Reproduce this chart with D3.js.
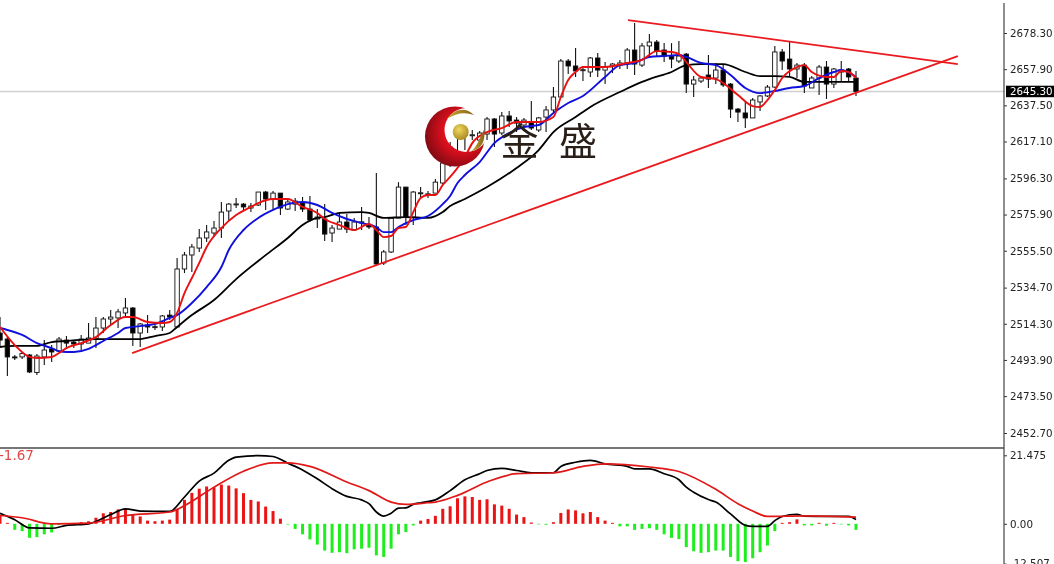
<!DOCTYPE html>
<html><head><meta charset="utf-8">
<script src="https://cdn.jsdelivr.net/npm/d3@7/dist/d3.min.js"></script>
<style>html,body{margin:0;padding:0;background:#fff;overflow:hidden}svg{display:block;filter:blur(0.35px)}text{font-family:"DejaVu Sans",sans-serif}</style>
</head><body><svg id="c" width="1054" height="564"></svg>
<script>
const opens=[2509.1,2505.7,2495.6,2495.6,2496.7,2486.8,2495.6,2500.1,2498.9,2505.1,2504.0,2502.9,2503.4,2505.7,2511.9,2517.0,2517.6,2520.4,2523.2,2509.1,2513.6,2512.5,2512.5,2519.2,2512.5,2545.2,2553.1,2557.0,2562.7,2565.5,2568.3,2577.9,2581.8,2581.8,2579.6,2581.3,2588.6,2584.7,2588.0,2579.0,2581.8,2582.4,2579.0,2573.4,2573.4,2565.5,2567.7,2571.7,2567.2,2571.7,2570.0,2568.9,2548.6,2554.8,2573.9,2591.4,2574.5,2588.0,2587.4,2588.0,2593.7,2605.0,2620.0,2622.5,2620.7,2617.9,2621.3,2629.8,2621.9,2631.5,2629.2,2626.4,2628.1,2623.6,2630.9,2634.9,2642.2,2662.5,2659.7,2657.4,2656.3,2664.2,2657.4,2659.7,2660.2,2661.4,2668.7,2660.2,2671.0,2673.2,2668.7,2665.3,2662.5,2666.4,2649.5,2651.2,2654.6,2652.9,2657.4,2649.5,2635.4,2633.2,2630.4,2639.4,2642.8,2647.8,2667.6,2663.6,2658.0,2660.2,2647.3,2652.9,2659.1,2649.5,2656.3,2658.0,2652.9];
const highs=[2518.1,2506.8,2496.7,2498.4,2497.2,2497.2,2505.1,2502.3,2506.8,2507.4,2505.1,2508.0,2514.7,2518.1,2518.1,2522.1,2522.6,2528.8,2523.8,2514.7,2519.2,2514.2,2519.2,2522.1,2551.4,2554.8,2559.3,2567.7,2570.0,2572.2,2583.0,2582.4,2585.2,2582.4,2582.4,2588.6,2589.2,2589.2,2588.0,2584.7,2585.2,2585.8,2586.4,2579.0,2581.8,2570.0,2576.8,2576.2,2573.9,2580.2,2574.5,2599.3,2555.9,2574.5,2594.2,2591.4,2589.2,2591.4,2589.2,2595.9,2606.1,2616.8,2624.0,2624.0,2623.6,2623.0,2630.9,2630.4,2633.7,2634.3,2630.9,2630.4,2639.9,2630.9,2637.1,2647.8,2663.6,2663.6,2669.8,2659.1,2664.8,2667.0,2661.9,2661.4,2663.1,2669.8,2683.9,2672.6,2677.7,2674.3,2672.6,2672.6,2673.8,2667.0,2654.0,2653.5,2665.9,2661.4,2660.2,2650.1,2636.0,2639.4,2641.6,2643.3,2649.0,2671.0,2669.3,2673.8,2661.4,2661.4,2654.0,2660.2,2662.5,2658.5,2662.5,2658.5,2656.9];
const lows=[2501.2,2484.8,2493.9,2494.4,2486.5,2485.4,2491.0,2492.7,2498.4,2500.6,2500.6,2499.5,2503.4,2500.6,2509.1,2513.6,2511.9,2518.1,2501.8,2501.2,2509.1,2510.8,2510.2,2516.4,2512.5,2542.9,2543.5,2554.8,2560.4,2563.2,2562.7,2572.8,2579.6,2577.9,2577.3,2580.7,2578.5,2578.5,2575.6,2578.5,2577.9,2577.3,2571.7,2568.3,2561.0,2560.4,2567.7,2565.5,2566.6,2567.2,2567.7,2547.4,2547.4,2554.2,2573.9,2570.0,2570.0,2585.2,2585.2,2588.0,2593.1,2602.7,2611.2,2612.3,2617.9,2615.0,2617.9,2614.0,2620.8,2625.3,2622.4,2623.6,2623.6,2622.4,2622.4,2633.7,2642.2,2655.2,2653.5,2651.2,2653.5,2653.5,2649.5,2655.7,2658.0,2658.0,2654.6,2659.1,2664.8,2665.3,2661.9,2658.5,2661.4,2644.4,2642.2,2650.1,2647.3,2649.5,2647.8,2630.4,2628.1,2624.7,2630.4,2634.3,2642.2,2647.3,2657.4,2653.5,2652.9,2644.4,2647.3,2643.3,2641.1,2647.3,2651.2,2650.7,2642.8];
const closes=[2505.1,2495.6,2495.4,2497.5,2487.1,2496.1,2499.5,2498.4,2505.7,2503.4,2502.9,2505.7,2506.3,2511.9,2517.0,2518.1,2521.0,2523.2,2509.1,2514.2,2512.5,2512.7,2518.7,2518.1,2545.2,2553.1,2557.6,2562.7,2566.1,2568.3,2577.3,2581.8,2581.9,2580.2,2580.7,2588.6,2584.7,2588.0,2579.6,2583.0,2583.5,2579.0,2572.8,2574.5,2564.9,2568.3,2571.7,2567.7,2571.7,2571.8,2568.9,2548.0,2554.8,2573.9,2591.4,2574.5,2588.6,2588.2,2587.6,2594.2,2605.0,2614.0,2623.0,2620.5,2620.9,2621.9,2629.8,2621.3,2631.5,2628.7,2627.5,2629.2,2624.7,2630.4,2634.9,2642.2,2662.5,2659.7,2656.9,2657.6,2664.2,2657.4,2659.1,2660.8,2661.4,2668.7,2660.8,2671.0,2673.2,2668.1,2665.3,2663.6,2665.3,2649.5,2651.8,2652.9,2652.3,2657.4,2649.0,2635.4,2633.7,2630.4,2640.5,2642.8,2647.8,2667.6,2662.5,2658.0,2660.2,2648.4,2652.9,2659.1,2649.5,2658.0,2657.4,2653.5,2645.3];

const redBars=[0,2,4,5,7,8,9,11,13,15,17,18,20,22,23,24,25,26,27,28,30,32,34,35,37,39,41,43,44,46,48,50,51,52,53,54,55,56,57,58,59,60,61,63,64,66,68,70,73,75,76,77,78,79,82,85,87,89,91,92,93,95,97,98,100,102,103,104,105,106,108,109,110,112,113,114,115,116];
const redValues=[2512.5,2502.3,2495.6,2495.0,2495.6,2497.8,2500.6,2503.4,2506.8,2513.6,2518.1,2518.1,2515.3,2514.7,2515.3,2520.4,2531.6,2540.1,2548.6,2557.6,2568.3,2575.6,2580.2,2582.4,2584.7,2584.7,2580.2,2576.8,2573.4,2570.0,2567.2,2570.6,2567.2,2563.2,2563.8,2568.3,2568.9,2577.3,2585.2,2586.9,2586.9,2592.6,2597.1,2608.4,2616.2,2622.4,2624.7,2628.1,2628.1,2630.9,2642.2,2651.8,2656.3,2659.1,2659.1,2661.4,2663.1,2668.1,2667.6,2666.4,2661.9,2653.5,2652.3,2650.1,2643.3,2637.1,2636.6,2640.5,2646.1,2652.9,2659.1,2660.2,2656.3,2653.5,2653.5,2656.9,2656.3,2652.9];
const blueBars=[0,1,3,5,7,8,9,10,12,13,14,16,17,19,21,23,24,26,28,30,31,33,35,37,39,41,43,45,47,49,51,52,53,54,56,58,60,61,62,63,65,67,69,71,73,75,77,79,82,84,86,88,90,92,93,95,97,99,101,103,105,107,109,111,113,114,116];
const blueValues=[2511.9,2510.8,2508.0,2503.4,2500.6,2498.9,2498.4,2498.4,2500.1,2502.3,2504.6,2509.1,2511.9,2513.0,2514.2,2517.6,2519.2,2526.0,2535.0,2546.3,2555.9,2567.2,2574.0,2578.5,2581.8,2583.0,2581.3,2576.8,2573.4,2571.1,2568.9,2566.0,2566.0,2568.9,2572.8,2575.1,2581.8,2586.4,2593.7,2598.2,2605.5,2616.2,2621.9,2625.3,2626.4,2633.2,2638.8,2642.8,2653.5,2660.2,2661.4,2664.8,2665.3,2665.9,2664.8,2661.4,2660.2,2654.6,2647.3,2644.4,2645.6,2647.3,2648.4,2652.9,2656.3,2657.4,2653.5];
const blackBars=[0,2,5,7,9,13,16,19,21,23,24,26,29,32,36,39,41,43,44,46,49,50,52,55,58,60,61,63,66,70,73,75,78,80,84,87,88,91,93,95,98,101,103,105,107,109,111,113,116];
const blackValues=[2501.2,2501.8,2501.8,2504.0,2504.6,2505.7,2505.7,2505.7,2507.4,2509.1,2512.5,2519.2,2527.7,2539.5,2553.0,2562.7,2570.0,2574.0,2574.5,2576.8,2577.3,2576.8,2574.0,2574.5,2574.0,2577.3,2580.7,2584.7,2591.4,2602.2,2612.3,2622.4,2630.9,2636.6,2645.0,2650.7,2652.3,2656.3,2660.2,2660.8,2660.8,2656.3,2654.0,2654.0,2653.5,2650.7,2650.7,2650.7,2650.7];

const supportLine=[[17.9,2497.8],[129.8,2665.3]];
const resistanceLine=[[85.1,2685.6],[129.8,2660.8]];

const histValues=[2.6,0.3,-1.9,-2.3,-4.4,-4.2,-3.3,-2.7,-0.4,0.2,0.2,0.5,0.8,1.9,3.3,3.7,4.5,4.7,2.9,2.3,1.0,0.8,1.0,1.3,4.7,7.5,9.7,11.0,11.7,11.5,12.3,12.0,11.1,9.6,7.5,7.0,5.4,4.0,1.6,-0.2,-1.6,-3.3,-4.9,-6.5,-8.4,-9.1,-8.9,-9.2,-8.0,-7.8,-7.5,-9.9,-10.4,-7.8,-3.3,-2.6,-0.5,1.0,1.5,2.5,4.7,5.5,8.0,8.6,8.4,7.5,7.7,6.1,5.7,4.7,2.9,2.1,0.4,-0.2,-0.3,0.5,3.4,4.5,4.2,3.3,3.7,2.1,1.0,0.3,-0.8,-0.8,-1.9,-1.6,-1.4,-1.9,-3.3,-4.4,-4.8,-7.3,-8.6,-9.1,-8.9,-8.4,-8.4,-10.4,-11.7,-12.0,-10.8,-8.9,-6.8,-2.3,0.3,0.5,1.4,-0.5,-0.5,0.3,-0.6,0.3,-0.2,-0.5,-1.9];
const macdBars=[0,2,4,7,9,12,15,17,19,23,25,27,29,31,32,35,37,39,41,43,45,47,49,50,51,52,53,54,55,56,57,59,61,63,65,66,68,70,72,75,76,78,80,82,85,86,88,90,92,93,94,96,97,99,101,102,104,105,106,108,109,112,115,116];
const macdValues=[3.3,1.3,-1.3,-1.4,-0.5,0.0,2.9,4.7,4.0,3.9,8.4,13.4,15.9,19.9,20.9,21.4,21.1,19.0,16.9,14.1,11.0,8.6,7.5,6.3,3.7,2.4,3.3,4.9,5.0,6.1,6.6,7.5,10.4,13.8,15.7,16.7,17.4,16.7,16.0,16.0,18.0,19.3,19.9,18.8,18.0,17.2,17.2,15.7,13.8,11.5,9.9,7.6,6.8,3.1,-0.5,-0.8,-0.8,1.0,2.3,3.0,2.4,2.3,2.3,1.3];
const signalBars=[0,3,7,12,17,23,25,29,33,37,39,42,47,50,53,55,58,59,62,66,70,75,79,82,88,92,97,100,102,104,109,116];
const signalValues=[2.6,1.9,0.0,0.2,2.6,3.7,5.7,11.5,16.5,19.1,19.1,18.0,13.1,10.4,6.8,6.1,6.6,6.8,8.9,13.1,15.7,16.0,18.0,18.8,17.8,16.4,10.8,6.3,4.0,2.3,2.5,2.1];

const priceTicks=[2678.30,2657.90,2637.50,2617.10,2596.30,2575.90,2555.50,2534.70,2514.30,2493.90,2473.50,2452.70];
const macdTicks=[21.475,0,-12.507];
const lastPrice=2645.30;
const macdLabel="-1.67";
const logoChars=["金","盛"];

const svg=d3.select("#c");
const x=d3.scaleLinear().domain([0,116]).range([0,856]);
const y=d3.scaleLinear().domain([2678.3,2452.7]).range([33,433]);
const ym=d3.scaleLinear().domain([21.475,-12.507]).range([455.3,563.7]);
const AX=1004;

const defs=svg.append("defs");
defs.append("clipPath").attr("id","cp").append("rect").attr("x",0).attr("y",0).attr("width",AX).attr("height",447);
defs.append("clipPath").attr("id","cm").append("rect").attr("x",0).attr("y",449).attr("width",AX).attr("height",115);

const main=svg.append("g").attr("clip-path","url(#cp)");
main.append("line").attr("x1",0).attr("x2",AX).attr("y1",y(lastPrice)).attr("y2",y(lastPrice)).attr("stroke","#d0d0d0").attr("stroke-width",1.4);

const cg=main.append("g");
const idx=d3.range(opens.length);
cg.selectAll("line").data(idx).join("line")
  .attr("x1",i=>x(i)).attr("x2",i=>x(i)).attr("y1",i=>y(highs[i])).attr("y2",i=>y(lows[i]))
  .attr("stroke","#111").attr("stroke-width",1.1);
cg.selectAll("rect").data(idx).join("rect")
  .attr("x",i=>x(i)-2.2).attr("width",4.4)
  .attr("y",i=>y(Math.max(opens[i],closes[i])))
  .attr("height",i=>Math.max(1,Math.abs(y(opens[i])-y(closes[i]))))
  .attr("fill",i=>closes[i]>=opens[i]?"#fff":"#000")
  .attr("stroke","#111").attr("stroke-width",0.9);

const lineOf=(sx,sy,curve)=>d3.line().x(d=>sx(d[0])).y(d=>sy(d[1])).curve(curve||d3.curveMonotoneX);
const zipS=(a,b)=>a.map((v,i)=>[v,b[i]]);
main.append("path").attr("d",lineOf(x,y)(zipS(blackBars,blackValues))).attr("fill","none").attr("stroke","#000").attr("stroke-width",1.8);
main.append("path").attr("d",lineOf(x,y)(zipS(blueBars,blueValues))).attr("fill","none").attr("stroke","#1010dc").attr("stroke-width",1.9);
main.append("path").attr("d",lineOf(x,y)(zipS(redBars,redValues))).attr("fill","none").attr("stroke","#e81010").attr("stroke-width",1.9);
[supportLine,resistanceLine].forEach(l=>{
  main.append("path").attr("d",lineOf(x,y,d3.curveLinear)(l)).attr("fill","none").attr("stroke","#ea1a1e").attr("stroke-width",1.8);
});

// logo
const rg=defs.append("radialGradient").attr("id","lg").attr("cx","0.62").attr("cy","0.42").attr("r","0.62");
rg.append("stop").attr("offset","0").attr("stop-color","#ff1a1a");
rg.append("stop").attr("offset","0.55").attr("stop-color","#d80f1c");
rg.append("stop").attr("offset","1").attr("stop-color","#860a14");
const gg=defs.append("radialGradient").attr("id","gb").attr("cx","0.4").attr("cy","0.35").attr("r","0.7");
gg.append("stop").attr("offset","0").attr("stop-color","#f0d860");
gg.append("stop").attr("offset","1").attr("stop-color","#a8861c");
const lf=defs.append("linearGradient").attr("id","lf").attr("x1","0").attr("x2","1").attr("y1","0").attr("y2","0");
lf.append("stop").attr("offset","0").attr("stop-color","#c8a830");
lf.append("stop").attr("offset","1").attr("stop-color","#86621a");
const mk=defs.append("mask").attr("id","cres");
mk.append("rect").attr("x",400).attr("y",90).attr("width",120).attr("height",100).attr("fill","#fff");
mk.append("circle").attr("cx",466.5).attr("cy",130).attr("r",22).attr("fill","#000");
const logo=svg.append("g");
logo.append("circle").attr("cx",455).attr("cy",136.5).attr("r",30).attr("fill","url(#lg)").attr("mask","url(#cres)");
logo.append("circle").attr("cx",460.7).attr("cy",132).attr("r",8).attr("fill","url(#gb)");
logo.append("path").attr("d","M447,119 C455,108 466,107 474,115 C465,112 456,113 447,119 Z").attr("fill","url(#lf)");
logo.append("path").attr("d","M471,151 C478,147 480,135 484,130 C486,141 481,150 471,151 Z").attr("fill","url(#lf)");
logo.selectAll("text").data(logoChars).join("text")
  .attr("x",(d,i)=>[519.5,578][i]).attr("y",155)
  .attr("text-anchor","middle").attr("font-size",38).attr("font-weight",400).attr("fill","#2a1e18")
  .style("font-family",'"Noto Sans CJK SC"').text(d=>d);

// macd panel
const mg=svg.append("g").attr("clip-path","url(#cm)");
mg.selectAll("rect").data(idx).join("rect")
  .attr("x",i=>x(i)-1.5).attr("width",3)
  .attr("y",i=>histValues[i]>=0?ym(histValues[i]):ym(0))
  .attr("height",i=>Math.abs(ym(histValues[i])-ym(0)))
  .attr("fill",i=>histValues[i]>=0?"#ea1414":"#1eee1e");
mg.append("path").attr("d",lineOf(x,ym)(zipS(macdBars,macdValues))).attr("fill","none").attr("stroke","#000").attr("stroke-width",1.7);
mg.append("path").attr("d",lineOf(x,ym)(zipS(signalBars,signalValues))).attr("fill","none").attr("stroke","#e01818").attr("stroke-width",1.7);
svg.append("text").attr("x",-1).attr("y",460).attr("font-size",13.5).attr("fill","#e04848").text(macdLabel);

// frame
svg.append("rect").attr("x",0).attr("y",447).attr("width",AX).attr("height",2).attr("fill","#777");

// axes
const ax=d3.axisRight(y).tickValues(priceTicks).tickFormat(d3.format(".2f")).tickSize(3).tickPadding(3);
const ag=svg.append("g").attr("transform",`translate(${AX},0)`).call(ax);
ag.select(".domain").remove();
const am=d3.axisRight(ym).tickValues(macdTicks).tickFormat(d=>d===21.475?"21.475":d===0?"0.00":"-12.507").tickSize(3).tickPadding(3);
const amg=svg.append("g").attr("transform",`translate(${AX},0)`).call(am);
amg.select(".domain").remove();
[ag,amg].forEach(g=>{g.selectAll("text").attr("font-size",10.3).attr("fill","#222").style("font-family",'"DejaVu Sans"');g.selectAll("line").attr("stroke","#333");});
svg.append("line").attr("x1",AX).attr("x2",AX).attr("y1",3).attr("y2",564).attr("stroke","#444").attr("stroke-width",1.2);

const lp=svg.append("g");
lp.append("rect").attr("x",AX+2).attr("y",y(lastPrice)-5.8).attr("width",48).attr("height",11.5).attr("fill","#000");
lp.append("text").attr("x",AX+6).attr("y",y(lastPrice)+3.8).attr("font-size",10.3).attr("fill","#fff").text(lastPrice.toFixed(2));
</script></body></html>
